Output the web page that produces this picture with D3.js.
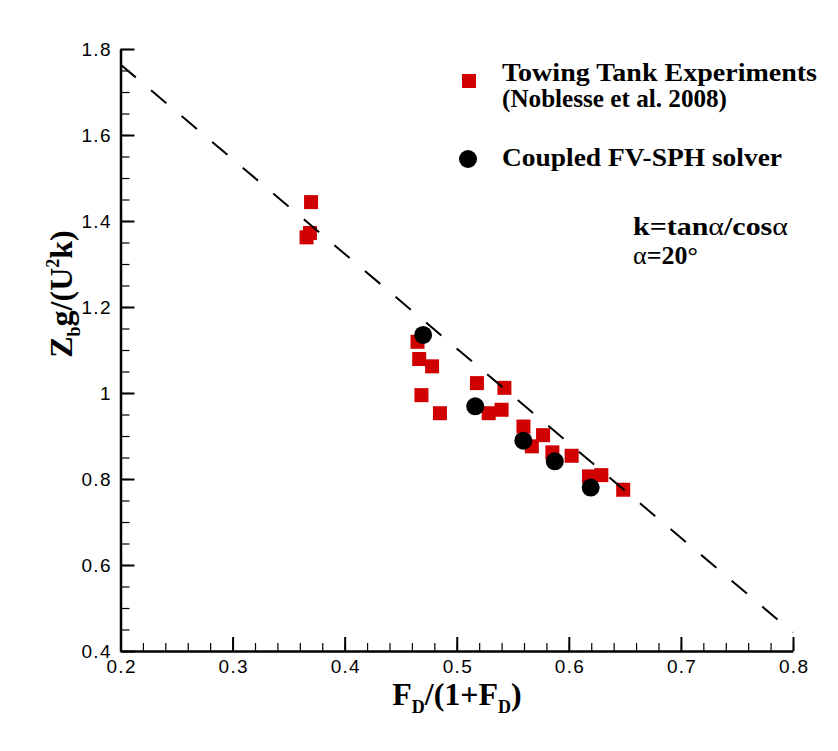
<!DOCTYPE html>
<html>
<head>
<meta charset="utf-8">
<script src="https://cdn.jsdelivr.net/npm/d3@7"></script>
<style>
  body { margin: 0; background: #fff; }
  .tick text { font-family: "Liberation Sans", Arial, sans-serif; font-size: 19px; fill: #000; }
  .serif { font-family: "Liberation Serif", "Times New Roman", serif; font-weight: bold; fill: #000; }
</style>
</head>
<body>
<svg width="838" height="751"></svg>
<script>
// towing tank experiments (Noblesse et al. 2008)
const expX = [0.370, 0.369, 0.366, 0.465, 0.4665, 0.478, 0.4685, 0.485, 0.518, 0.5285,
              0.540, 0.5425, 0.5595, 0.577, 0.567, 0.5853, 0.6025, 0.618, 0.629, 0.6485];
const expY = [1.444, 1.372, 1.362, 1.119, 1.079, 1.062, 0.995, 0.953, 1.023, 0.953,
              0.961, 1.012, 0.922, 0.902, 0.876, 0.862, 0.854, 0.806, 0.809, 0.775];

// coupled FV-SPH solver
const sphX = [0.470, 0.5165, 0.5594, 0.5875, 0.6195];
const sphY = [1.135, 0.969, 0.889, 0.841, 0.780];

// dashed reference line
const lineX = [0.2, 0.8];
const lineY = [1.764, 0.443];

const xTicks = [0.2, 0.3, 0.4, 0.5, 0.6, 0.7, 0.8];
const yTicks = [0.4, 0.6, 0.8, 1.0, 1.2, 1.4, 1.6, 1.8];
const xMinor = d3.range(0.2, 0.8001, 0.02);
const yMinor = d3.range(0.4, 1.8001, 0.05);

var svg = d3.select("svg");

var x = d3.scaleLinear().domain([0.2, 0.8]).range([120.5, 793]);
var y = d3.scaleLinear().domain([0.4, 1.8]).range([651, 49]);

var fmt = d3.format("~g");

// minor ticks
svg.append("g")
    .attr("transform", "translate(0,651)")
    .call(d3.axisBottom(x).tickValues(xMinor).tickSizeInner(-8).tickSizeOuter(0).tickFormat(""))
    .call(g => g.select(".domain").remove())
    .call(g => g.selectAll("line").attr("stroke", "#000").attr("stroke-width", 1.2));

svg.append("g")
    .attr("transform", "translate(120.5,0)")
    .call(d3.axisLeft(y).tickValues(yMinor).tickSizeInner(-9).tickSizeOuter(0).tickFormat(""))
    .call(g => g.select(".domain").remove())
    .call(g => g.selectAll("line").attr("stroke", "#000").attr("stroke-width", 1.2));

// major ticks + labels
svg.append("g")
    .attr("transform", "translate(0,651)")
    .call(d3.axisBottom(x).tickValues(xTicks).tickSizeInner(-14).tickSizeOuter(0).tickPadding(9).tickFormat(fmt))
    .call(g => g.select(".domain").attr("stroke-width", 2.5))
    .call(g => g.selectAll("line").attr("stroke", "#000").attr("stroke-width", 2))
    .call(g => g.selectAll("text").attr("font-family", null).attr("font-size", null)
        .attr("textLength", d => fmt(d).length > 1 ? 29 : null));

svg.append("g")
    .attr("transform", "translate(120.5,0)")
    .call(d3.axisLeft(y).tickValues(yTicks).tickSizeInner(-14).tickSizeOuter(0).tickPadding(10).tickFormat(fmt))
    .call(g => g.select(".domain").attr("stroke-width", 2.5))
    .call(g => g.selectAll("line").attr("stroke", "#000").attr("stroke-width", 2))
    .call(g => g.selectAll("text").attr("font-family", null).attr("font-size", null)
        .attr("textLength", d => fmt(d).length > 1 ? 29 : null));

// experiments
var sq = 14;
svg.append("g").selectAll("rect")
    .data(expX.map((d, i) => [d, expY[i]]))
    .enter().append("rect")
    .attr("x", d => x(d[0]) - sq / 2)
    .attr("y", d => y(d[1]) - sq / 2)
    .attr("width", sq).attr("height", sq)
    .attr("fill", "#d00000");

// dashed line
svg.append("path")
    .datum(lineX.map((d, i) => [d, lineY[i]]))
    .attr("d", d3.line().x(d => x(d[0])).y(d => y(d[1])))
    .attr("fill", "none")
    .attr("stroke", "#000")
    .attr("stroke-width", 2)
    .attr("stroke-dasharray", "20,20");

// solver
svg.append("g").selectAll("circle")
    .data(sphX.map((d, i) => [d, sphY[i]]))
    .enter().append("circle")
    .attr("cx", d => x(d[0]))
    .attr("cy", d => y(d[1]))
    .attr("r", 9)
    .attr("fill", "#000");

// axis titles
var xt = svg.append("text").attr("class", "serif")
    .attr("x", 457).attr("y", 705)
    .attr("text-anchor", "middle")
    .attr("font-size", 32);
xt.append("tspan").text("F");
xt.append("tspan").attr("font-size", 18).attr("dy", 8).text("D");
xt.append("tspan").attr("dy", -8).text("/(1+F");
xt.append("tspan").attr("font-size", 18).attr("dy", 8).text("D");
xt.append("tspan").attr("dy", -8).text(")");

var yt = svg.append("text").attr("class", "serif")
    .attr("transform", "translate(72,294) rotate(-90)")
    .attr("text-anchor", "middle")
    .attr("font-size", 32);
yt.append("tspan").text("Z");
yt.append("tspan").attr("font-size", 18).attr("dy", 8).text("b");
yt.append("tspan").attr("dy", -8).text("g/(U");
yt.append("tspan").attr("font-size", 18).attr("dy", -13).text("2");
yt.append("tspan").attr("dy", 13).text("k)");

// legend
var lg = svg.append("g");
lg.append("rect").attr("x", 462).attr("y", 74).attr("width", sq).attr("height", sq).attr("fill", "#d00000");
lg.append("text").attr("class", "serif").attr("x", 502).attr("y", 81).attr("font-size", 25)
    .attr("textLength", 315).attr("lengthAdjust", "spacingAndGlyphs").text("Towing Tank Experiments");
lg.append("text").attr("class", "serif").attr("x", 502).attr("y", 107).attr("font-size", 25)
    .attr("textLength", 225).attr("lengthAdjust", "spacingAndGlyphs").text("(Noblesse et al. 2008)");
lg.append("circle").attr("cx", 468).attr("cy", 159).attr("r", 9).attr("fill", "#000");
lg.append("text").attr("class", "serif").attr("x", 502).attr("y", 166).attr("font-size", 26)
    .attr("textLength", 280).attr("lengthAdjust", "spacingAndGlyphs").text("Coupled FV-SPH solver");

// annotation
var a1 = svg.append("text").attr("class", "serif").attr("x", 633).attr("y", 235).attr("font-size", 25)
    .attr("textLength", 155).attr("lengthAdjust", "spacingAndGlyphs");
a1.append("tspan").text("k=tan");
a1.append("tspan").attr("font-weight", "normal").text("α");
a1.append("tspan").text("/cos");
a1.append("tspan").attr("font-weight", "normal").text("α");
var a2 = svg.append("text").attr("class", "serif").attr("x", 633).attr("y", 264).attr("font-size", 26);
a2.append("tspan").attr("font-weight", "normal").text("α");
a2.append("tspan").text("=20°");
</script>
</body>
</html>
